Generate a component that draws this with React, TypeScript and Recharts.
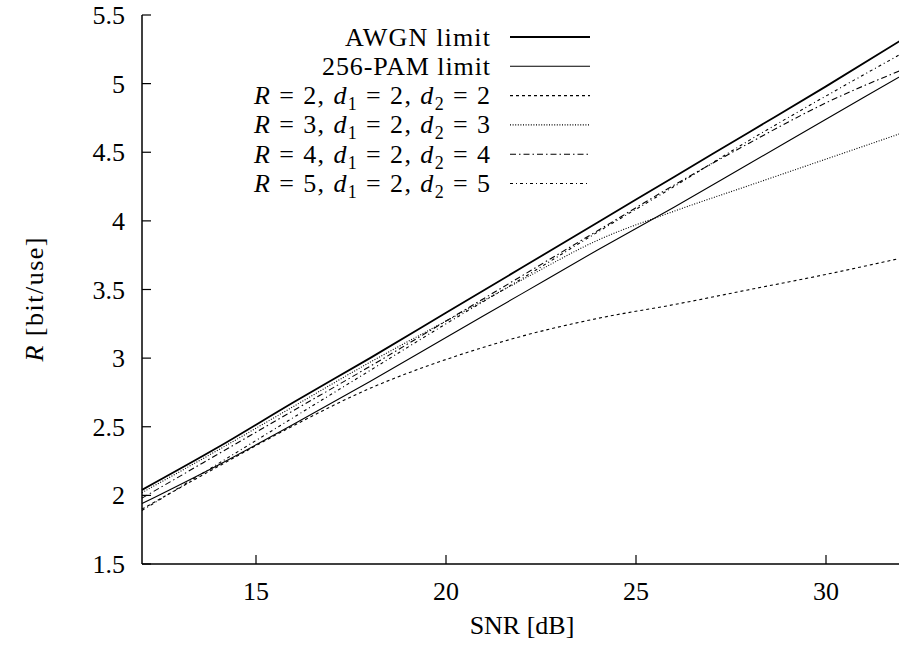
import { LineChart, Line, XAxis, YAxis, Legend } from "recharts";

const FONT = "'Liberation Serif', 'DejaVu Serif', serif";

// SNR grid in dB
const snr = [12, 14, 16, 18, 20, 22, 24, 26, 28, 30, 32];

// rates in bit/use
const awgnLimit = [2.04, 2.35, 2.68, 3.0, 3.33, 3.66, 3.99, 4.32, 4.65, 4.98, 5.32];
const pamLimit = [1.94, 2.22, 2.52, 2.83, 3.15, 3.47, 3.79, 4.1, 4.42, 4.74, 5.06];
const rate2 = [1.9, 2.21, 2.51, 2.78, 2.99, 3.16, 3.29, 3.39, 3.5, 3.61, 3.73];
const rate3 = [2.02, 2.33, 2.65, 2.97, 3.27, 3.57, 3.86, 4.07, 4.26, 4.45, 4.64];
const rate4 = [1.98, 2.3, 2.62, 2.94, 3.27, 3.6, 3.93, 4.26, 4.57, 4.86, 5.1];
const rate5 = [1.89, 2.23, 2.57, 2.91, 3.25, 3.58, 3.92, 4.25, 4.59, 4.91, 5.22];

const xTicks = [15, 20, 25, 30];
const yTicks = [1.5, 2, 2.5, 3, 3.5, 4, 4.5, 5, 5.5];

type Series = { key: string; label: string[] | null; name: string; dash?: string; width: number; span: number };

const series: Series[] = [
  { key: "awgn", name: "AWGN limit", label: null, width: 1.8, span: 145 },
  { key: "pam", name: "256-PAM limit", label: null, width: 1.1, span: 168 },
  { key: "r2", name: "", label: ["2", "2", "2"], dash: "3 3", width: 1.1, span: 236 },
  { key: "r3", name: "", label: ["3", "2", "3"], dash: "1 1.6", width: 1.1, span: 236 },
  { key: "r4", name: "", label: ["4", "2", "4"], dash: "6 3 1.5 3", width: 1.1, span: 236 },
  { key: "r5", name: "", label: ["5", "2", "5"], dash: "3 3 1 3", width: 1.1, span: 236 },
];

const data = snr.map((s, i) => ({
  snr: s,
  awgn: awgnLimit[i],
  pam: pamLimit[i],
  r2: rate2[i],
  r3: rate3[i],
  r4: rate4[i],
  r5: rate5[i],
}));

const txt = { fontFamily: FONT, fontSize: 26, fill: "#000" };

function BottomTick({ x, y, payload }: any) {
  return (
    <g>
      <line x1={x} y1={y} x2={x} y2={y - 9} stroke="#000" strokeWidth={1.2} />
      <text x={x} y={y + 36} textAnchor="middle" style={txt}>
        {payload.value}
      </text>
    </g>
  );
}

function TopTick({ x, y }: any) {
  return <line x1={x} y1={y} x2={x} y2={y + 9} stroke="#000" strokeWidth={1.2} />;
}

function LeftTick({ x, y, payload }: any) {
  return (
    <g>
      <line x1={x} y1={y} x2={x + 9} y2={y} stroke="#000" strokeWidth={1.2} />
      <text x={x - 17} y={y + 9} textAnchor="end" style={txt}>
        {payload.value}
      </text>
    </g>
  );
}

function RightTick({ x, y }: any) {
  return <line x1={x} y1={y} x2={x - 9} y2={y} stroke="#000" strokeWidth={1.2} />;
}

function MathLabel({ vals }: { vals: string[] }) {
  return (
    <>
      <tspan fontStyle="italic">R</tspan>
      <tspan> = {vals[0]}, </tspan>
      <tspan fontStyle="italic">d</tspan>
      <tspan dy={6} fontSize={18}>1</tspan>
      <tspan dy={-6}> = {vals[1]}, </tspan>
      <tspan fontStyle="italic">d</tspan>
      <tspan dy={6} fontSize={18}>2</tspan>
      <tspan dy={-6}> = {vals[2]}</tspan>
    </>
  );
}

function KeyBox() {
  return (
    <svg width={600} height={230} style={{ display: "block", overflow: "visible" }}>
      {series.map((s, i) => {
        const cy = 37 + i * 29.3;
        return (
          <g key={s.key}>
            <text x={490 - s.span} y={cy + 8.5} textLength={s.span} lengthAdjust="spacing" style={txt}>
              {s.label ? <MathLabel vals={s.label} /> : s.name}
            </text>
            <line x1={510} y1={cy} x2={590} y2={cy} stroke="#000" strokeWidth={s.width} strokeDasharray={s.dash} />
          </g>
        );
      })}
    </svg>
  );
}

export default function App() {
  return (
    <div
      style={{
        position: "fixed",
        left: 0,
        top: 0,
        width: 899,
        height: 650,
        overflow: "hidden",
        background: "#fff",
        fontFamily: FONT,
      }}
    >
      <LineChart width={902} height={650} data={data} margin={{ top: 15, right: 0, left: 0, bottom: 0 }}>
        <XAxis
          xAxisId="b"
          dataKey="snr"
          type="number"
          domain={[12, 32]}
          ticks={xTicks}
          interval={0}
          height={86}
          tickSize={0}
          tickMargin={0}
          tick={<BottomTick />}
          axisLine={{ stroke: "#000", strokeWidth: 1.5 }}
          label={{
            content: ({ viewBox }: any) => (
              <text x={viewBox.x + viewBox.width / 2} y={viewBox.y + 70} textAnchor="middle" style={txt}>
                SNR [dB]
              </text>
            ),
          }}
        />
        <XAxis
          xAxisId="t"
          orientation="top"
          dataKey="snr"
          type="number"
          domain={[12, 32]}
          ticks={xTicks}
          interval={0}
          height={0}
          tickSize={0}
          tickMargin={0}
          tick={<TopTick />}
          axisLine={{ stroke: "#000", strokeWidth: 1.5 }}
        />
        <YAxis
          yAxisId="l"
          type="number"
          domain={[1.5, 5.5]}
          ticks={yTicks}
          interval={0}
          width={142}
          tickSize={0}
          tickMargin={0}
          tick={<LeftTick />}
          axisLine={{ stroke: "#000", strokeWidth: 1.5 }}
          label={{
            content: ({ viewBox }: any) => {
              const cx = 34;
              const cy = viewBox.y + viewBox.height / 2 + 10;
              return (
                <text
                  x={cx - 62}
                  y={cy + 9}
                  transform={`rotate(-90, ${cx}, ${cy})`}
                  textLength={124}
                  lengthAdjust="spacing"
                  style={txt}
                >
                  <tspan fontStyle="italic">R</tspan> [bit/use]
                </text>
              );
            },
          }}
        />
        <YAxis
          yAxisId="r"
          orientation="right"
          type="number"
          domain={[1.5, 5.5]}
          ticks={yTicks}
          interval={0}
          width={0}
          tickSize={0}
          tickMargin={0}
          tick={<RightTick />}
          axisLine={{ stroke: "#000", strokeWidth: 1.5 }}
        />
        <Legend
          layout="vertical"
          align="center"
          verticalAlign="middle"
          wrapperStyle={{ left: 0, top: 0, width: 600, height: 230 }}
          content={() => <KeyBox />}
        />
        {series.map((s) => (
          <Line
            key={s.key}
            xAxisId="b"
            yAxisId="l"
            dataKey={s.key}
            type="monotone"
            stroke="#000"
            strokeWidth={s.width}
            strokeDasharray={s.dash}
            dot={false}
            activeDot={false}
            isAnimationActive={false}
            legendType="none"
          />
        ))}
      </LineChart>
    </div>
  );
}
